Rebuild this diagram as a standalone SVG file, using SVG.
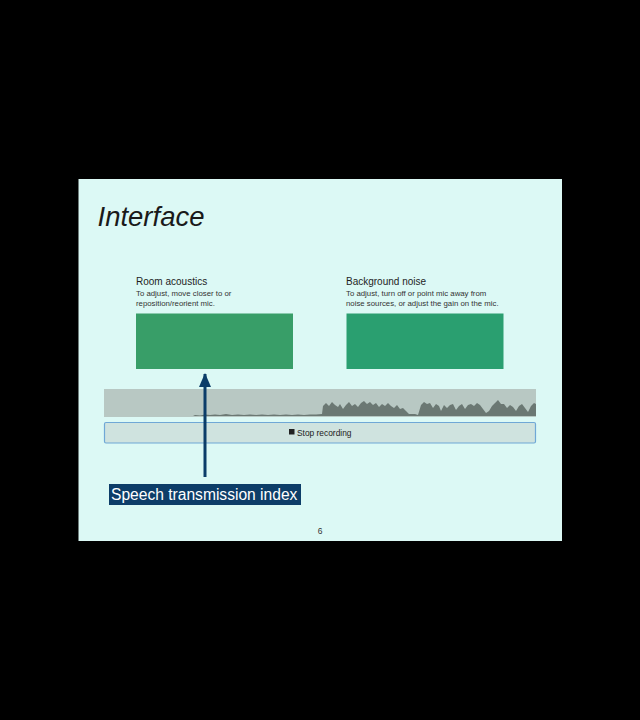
<svg xmlns="http://www.w3.org/2000/svg" width="640" height="720" viewBox="0 0 640 720">
<style>
.t{font-family:"Liberation Sans",Arial,sans-serif;}
.h{font-size:10px;fill:#1e1e1e;}
.s{font-size:7.8px;fill:#333;}
</style>
<defs>
<marker id="ah" viewBox="0 0 14 12" refX="13" refY="6" markerWidth="14" markerHeight="12" markerUnits="userSpaceOnUse" orient="auto">
<path d="M0,0 L14,6 L0,12 Z" fill="#0b3d69"/>
</marker>
</defs>
<rect x="0" y="0" width="640" height="720" fill="#000"/>
<rect x="78.5" y="179" width="483.5" height="362" fill="#dcf9f5"/>
<text class="t" x="97.5" y="226" font-size="27.5" font-style="italic" fill="#1a1a1a">Interface</text>

<g id="room-acoustics">
<text class="t h" x="136" y="285">Room acoustics</text>
<text class="t s" x="136" y="296">To adjust, move closer to or</text>
<text class="t s" x="136" y="306">reposition/reorient mic.</text>
<rect x="136" y="313.5" width="157" height="55.5" fill="#389e68"/>
</g>

<g id="background-noise">
<text class="t h" x="346" y="285">Background noise</text>
<text class="t s" x="346" y="296">To adjust, turn off or point mic away from</text>
<text class="t s" x="346" y="306">noise sources, or adjust the gain on the mic.</text>
<rect x="346.5" y="313.5" width="157" height="55.5" fill="#2a9f70"/>
</g>

<g id="waveform">
<rect x="104" y="389" width="432" height="28" fill="#b8c8c3"/>
<path fill="#6b7873" d="M193,416 L195,415 L200,415.5 L205,414.5 L210,415 L215,414.5 L220,415 L226,414 L232,415 L238,414.5 L244,415 L250,414.5 L256,415 L262,414.5 L268,415 L274,414.5 L280,415 L286,414.5 L292,415 L298,414.5 L304,415 L310,414.5 L316,414.5 L322,414 L323,406 L326,403 L329,406 L332,402 L335,405 L338,407 L340,404 L343,409 L346,405 L349,402 L352,406 L355,404 L358,407 L361,403 L364,401 L367,404 L370,402 L373,405 L376,403 L379,407 L382,404 L385,406 L388,403 L391,406 L394,408 L397,405 L400,409 L403,408 L406,411 L409,414 L415,414 L418,415 L421,405 L424,402 L427,404 L430,403 L433,408 L436,404 L439,406 L441,411 L444,405 L447,408 L450,405 L453,404 L456,410 L459,406 L462,404 L465,409 L468,405 L471,404 L474,406 L477,403 L480,405 L483,409 L486,413 L489,411 L492,406 L495,403 L498,400 L501,404 L504,404 L507,408 L510,405 L513,407 L516,411 L519,406 L522,404 L525,408 L528,412 L531,406 L534,403 L536,404 L536,416 Z"/>
</g>

<g id="stop-recording">
<rect x="104.5" y="422.5" width="431" height="20.5" rx="1.5" fill="#cfe3df" stroke="#6fa8d6" stroke-width="1.2"/>
<rect x="289" y="429" width="5.5" height="5.5" fill="#222"/>
<text class="t" x="297" y="436" font-size="8.4" fill="#222">Stop recording</text>
</g>

<g id="connectors">
<line x1="205" y1="477" x2="205" y2="374" stroke="#0b3d69" stroke-width="3" marker-end="url(#ah)"/>
</g>

<g id="sti-label">
<rect x="109" y="484" width="192" height="21" fill="#0d3d68"/>
<text class="t" x="111" y="500" font-size="15.6" fill="#fff">Speech transmission index</text>
</g>

<text class="t" x="320" y="534" font-size="8.5" fill="#333" text-anchor="middle">6</text>
</svg>
